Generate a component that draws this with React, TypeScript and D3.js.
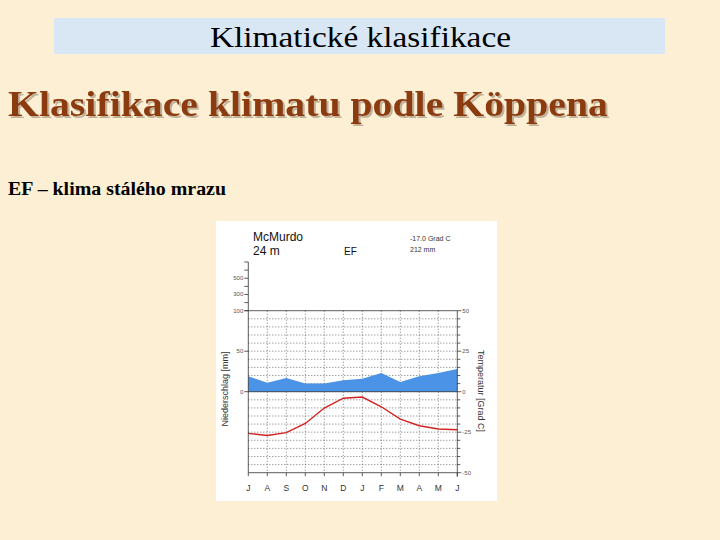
import React from "react";
import * as d3 from "d3";

const months = ["J", "A", "S", "O", "N", "D", "J", "F", "M", "A", "M", "J"];
const precipitation = [19, 11, 17, 10, 10, 14, 16, 23, 12, 19, 23, 28];
const temperature = [-25.7, -27, -25.3, -19.6, -10.1, -4, -3.3, -9.3, -16.9, -21, -23, -23.5];
const tempTicks = [50, 25, 0, -25, -50];
const precipTicks = [100, 50, 0];
const highPrecipTicks = [100, 200, 300, 400, 500, 600, 700];
const highPrecipLabels = [300, 500];

const W = 720;
const H = 540;

export default function App() {
  const x = d3.scaleLinear().domain([0, 11]).range([248.3, 457.3]);
  const yT = d3.scaleLinear().domain([-50, 50]).range([472.7, 310.7]);
  const yP = (p: number) => yT(p / 2);
  const yHigh = d3.scaleLinear().domain([100, 700]).range([310.7, 262]);

  const area = d3
    .area<number>()
    .x((_, i) => x(i))
    .y0(() => yP(0))
    .y1((d) => yP(d));
  const line = d3
    .line<number>()
    .x((_, i) => x(i))
    .y((d) => yT(d));

  const gridT = d3.range(-45, 50, 5);
  const sans = "'Liberation Sans', Arial, sans-serif";
  const serif = "'Liberation Serif', 'Times New Roman', serif";

  return (
    <svg
      width={W}
      height={H}
      style={{ position: "absolute", left: 0, top: 0 }}
      xmlns="http://www.w3.org/2000/svg"
    >
      <defs>
        <filter id="shadow" x="-5%" y="-20%" width="110%" height="150%">
          <feDropShadow dx={2} dy={2} stdDeviation={0.6} floodColor="#a89880" floodOpacity={0.7} />
        </filter>
      </defs>
      <rect x={0} y={0} width={W} height={H} fill="#fcefd3" />
      {/* header banner */}
      <rect x={54} y={18} width={611} height={36} fill="#d9e7f4" />
      <text
        x={210}
        y={47}
        fontFamily={serif}
        fontSize={29}
        fill="#000"
        textLength={301}
        lengthAdjust="spacingAndGlyphs"
      >
        Klimatické klasifikace
      </text>
      {/* main title with shadow */}
      <text
        x={8}
        y={116}
        fontFamily={serif}
        fontSize={35}
        fontWeight="bold"
        fill="#8b3a0e"
        textLength={600}
        lengthAdjust="spacingAndGlyphs"
        filter="url(#shadow)"
      >
        Klasifikace klimatu podle Köppena
      </text>
      <text
        x={8}
        y={195}
        fontFamily={serif}
        fontSize={18}
        fontWeight="bold"
        fill="#000"
        textLength={218}
        lengthAdjust="spacingAndGlyphs"
      >
        EF – klima stálého mrazu
      </text>

      {/* chart panel */}
      <rect x={216} y={221} width={281} height={280} fill="#ffffff" />

      <text x={253} y={241} fontFamily={sans} fontSize={12} fill="#111">McMurdo</text>
      <text x={253} y={254.5} fontFamily={sans} fontSize={12} fill="#111">24 m</text>
      <text x={344} y={255} fontFamily={sans} fontSize={10} fill="#111">EF</text>
      <text x={410} y={241} fontFamily={sans} fontSize={7} fill="#333">-17.0 Grad C</text>
      <text x={410} y={252} fontFamily={sans} fontSize={7} fill="#333">212 mm</text>

      {/* horizontal grid */}
      {gridT.map((t) => (
        <line
          key={"h" + t}
          x1={x(0)}
          x2={x(11)}
          y1={yT(t)}
          y2={yT(t)}
          stroke="#555"
          strokeWidth={0.8}
          strokeDasharray="1,2"
        />
      ))}
      {/* vertical grid */}
      {months.map((_, i) =>
        i > 0 && i < 11 ? (
          <line
            key={"v" + i}
            x1={x(i)}
            x2={x(i)}
            y1={yT(50)}
            y2={yT(-50)}
            stroke="#555"
            strokeWidth={0.8}
            strokeDasharray="1,2"
          />
        ) : null
      )}

      {/* precipitation area */}
      <path d={area(precipitation) || ""} fill="#4b93e6" />
      <line x1={x(0)} x2={x(11)} y1={yT(0)} y2={yT(0)} stroke="#333" strokeWidth={0.8} />

      {/* temperature line */}
      <path d={line(temperature) || ""} fill="none" stroke="#d42222" strokeWidth={1.4} />

      {/* frame lines */}
      <line x1={x(0)} x2={x(11)} y1={yT(50)} y2={yT(50)} stroke="#333" strokeWidth={0.8} />
      <line x1={x(0)} x2={x(11)} y1={yT(-50)} y2={yT(-50)} stroke="#333" strokeWidth={0.8} />
      <line x1={x(0)} x2={x(0)} y1={yHigh(700)} y2={yT(-50)} stroke="#333" strokeWidth={0.8} />
      <line x1={x(11)} x2={x(11)} y1={yT(50)} y2={yT(-50) + 4} stroke="#333" strokeWidth={0.8} />

      {/* left high ticks */}
      {highPrecipTicks.map((p) => (
        <line key={"hp" + p} x1={x(0) - 4} x2={x(0)} y1={yHigh(p)} y2={yHigh(p)} stroke="#333" strokeWidth={0.8} />
      ))}
      {highPrecipLabels.map((p) => (
        <text key={"hl" + p} x={x(0) - 5} y={yHigh(p) + 2} textAnchor="end" fontFamily={sans} fontSize={6} fill="#555">
          {p}
        </text>
      ))}
      {precipTicks.map((p) => (
        <g key={"pt" + p}>
          <line x1={x(0) - 4} x2={x(0)} y1={yP(p)} y2={yP(p)} stroke="#333" strokeWidth={0.8} />
          <text x={x(0) - 5} y={yP(p) + 2} textAnchor="end" fontFamily={sans} fontSize={6} fill="#555">
            {p}
          </text>
        </g>
      ))}

      {/* right ticks */}
      {d3.range(-50, 55, 5).map((t) => (
        <line key={"rt" + t} x1={x(11)} x2={x(11) + (t % 25 === 0 ? 4 : 3)} y1={yT(t)} y2={yT(t)} stroke="#333" strokeWidth={0.8} />
      ))}
      {tempTicks.map((t) => (
        <text key={"tl" + t} x={x(11) + 5} y={yT(t) + 2} fontFamily={sans} fontSize={6} fill="#555">
          {t}
        </text>
      ))}

      {/* month ticks & labels */}
      {months.map((m, i) => (
        <g key={"m" + i}>
          <line x1={x(i)} x2={x(i)} y1={yT(-50)} y2={yT(-50) + 3.5} stroke="#333" strokeWidth={0.8} />
          <text x={x(i)} y={491} textAnchor="middle" fontFamily={sans} fontSize={8.5} fill="#333">
            {m}
          </text>
        </g>
      ))}

      {/* axis titles */}
      <text
        transform={`translate(228,389) rotate(-90)`}
        textAnchor="middle"
        fontFamily={sans}
        fontSize={9}
        fill="#333"
      >
        Niederschlag [mm]
      </text>
      <text
        transform={`translate(478,391) rotate(90)`}
        textAnchor="middle"
        fontFamily={sans}
        fontSize={9}
        fill="#333"
      >
        Temperatur [Grad C]
      </text>
    </svg>
  );
}
